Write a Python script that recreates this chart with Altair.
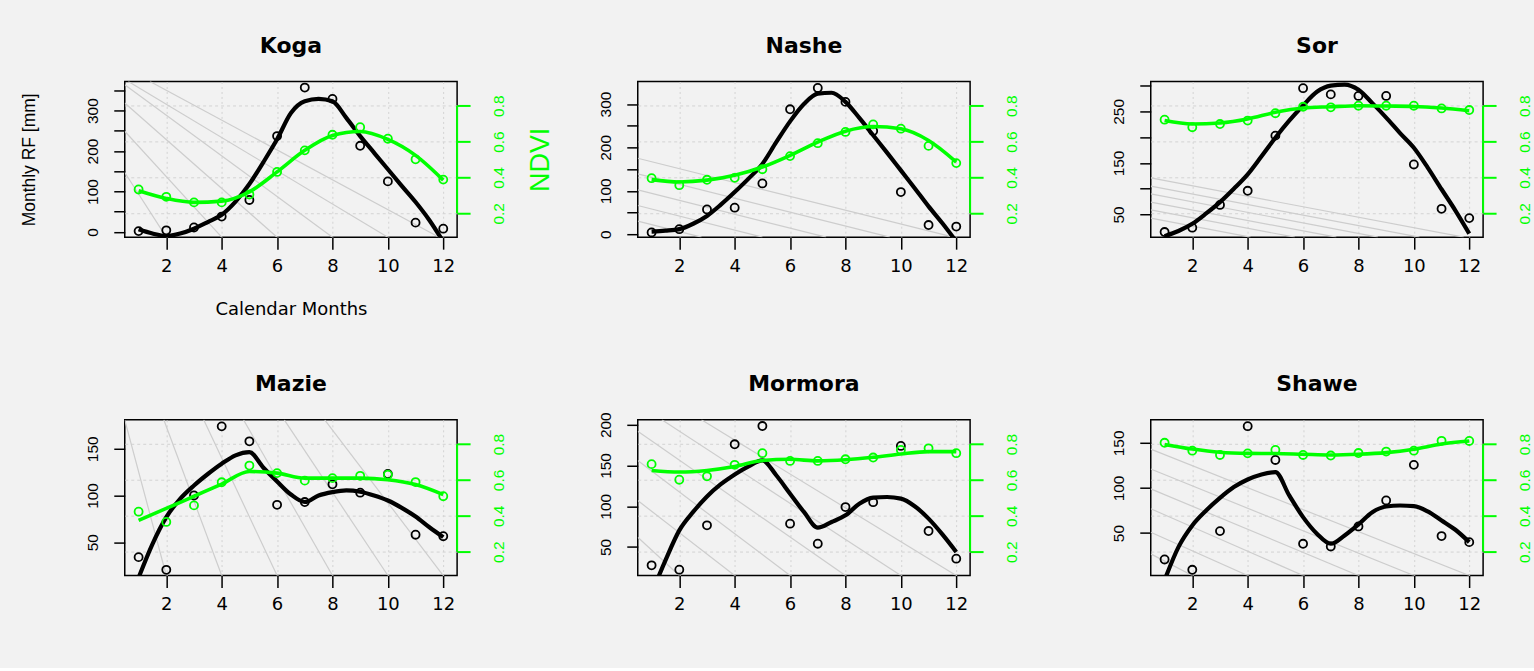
import altair as alt
import pandas as pd

# ---------------- data ----------------
MONTHS = [1, 2, 3, 4, 5, 6, 7, 8, 9, 10, 11, 12]
HALF_MONTHS = [1, 1.5, 2, 2.5, 3, 3.5, 4, 4.5, 5, 5.5, 6, 6.5, 7, 7.5, 8, 8.5,
               9, 9.5, 10, 10.5, 11, 11.5, 12]
X_TICKS = [2, 4, 6, 8, 10, 12]
NDVI_TICKS = [0.2, 0.4, 0.6, 0.8]
NDVI_DOMAIN = [0.067, 0.935]
X_DOMAIN = [0.5, 12.5]

STATIONS = ["Koga", "Nashe", "Sor", "Mazie", "Mormora", "Shawe"]

# monthly rainfall observations (mm)
koga_rf = [2, 4, 11, 38, 79, 237, 357, 329, 213, 125, 23, 8]
nashe_rf = [4, 11.5, 57, 61, 117, 288, 337, 305, 238, 97, 21, 17.5]
sor_rf = [16, 24.4, 68.6, 96, 203, 295, 283, 280, 280, 147, 61, 43]
mazie_rf = [34, 20.4, 100, 174, 158, 90, 93, 112, 103, 123, 58, 56.4]
mormora_rf = [27.5, 22.2, 76.6, 176, 198.4, 78.6, 54, 99, 105, 174, 69.6, 35.7]
shawe_rf = [20.8, 9.4, 52.2, 168.5, 131, 38.2, 35.2, 57.4, 86.2, 125.6, 46.7, 40]

# smoothed rainfall curves, read at half-month steps
koga_rf_fit = [6.5, -4, -10, -4, 8, 24.5, 42.5, 75, 118.5, 172, 229, 294, 323, 329,
               323, 282, 237, 196, 155, 114, 74, 29, -24]
nashe_rf_fit = [6, 8, 11.5, 24, 42, 68, 97, 128, 162, 212, 260, 300, 324, 326,
                305, 268, 228, 188, 147, 106, 64, 25, -17]
sor_rf_fit = [8, 18, 32, 52, 74, 100, 128, 163, 199, 232, 261.5, 288, 300, 302,
              292, 266, 238, 208, 179.5, 141, 99, 57.7, 13]
mazie_rf_fit = [12, 48, 76.8, 96.4, 110.7, 123, 134, 143, 146.4, 130, 115, 101,
                93, 100, 103.6, 105.4, 104, 100, 94.6, 86.8, 77.5, 66, 55.4]
mormora_rf_fit = [-7, 33.6, 70.4, 93, 112, 127, 139, 149, 156.3, 138, 115.4, 93,
                  73.7, 80.7, 88.8, 103, 110.5, 111.3, 109.3, 100, 84.8, 65.5, 43.9]
shawe_rf_fit = [-2, 34.5, 58.5, 75, 89, 101, 109.4, 115, 117.5, 91.7, 67.7, 49.3,
                38.2, 47.4, 59.6, 73.2, 79.5, 80.6, 79.9, 74, 64, 53.7, 40]

# NDVI observations
koga_ndvi = [0.333, 0.292, 0.261, 0.261, 0.305, 0.431, 0.551, 0.638, 0.680, 0.616, 0.501, 0.388]
nashe_ndvi = [0.396, 0.357, 0.387, 0.398, 0.446, 0.519, 0.591, 0.654, 0.696, 0.672, 0.576, 0.480]
sor_ndvi = [0.722, 0.680, 0.698, 0.717, 0.758, 0.794, 0.791, 0.800, 0.800, 0.800, 0.785, 0.776]
mazie_ndvi = [0.423, 0.366, 0.458, 0.587, 0.680, 0.638, 0.596, 0.610, 0.623, 0.629, 0.588, 0.509]
mormora_ndvi = [0.688, 0.601, 0.620, 0.684, 0.749, 0.706, 0.706, 0.715, 0.725, 0.767, 0.776, 0.749]
shawe_ndvi = [0.807, 0.763, 0.739, 0.748, 0.767, 0.739, 0.736, 0.750, 0.758, 0.763, 0.818, 0.817]

# smoothed NDVI curves (monthly)
koga_ndvi_fit = [0.326, 0.283, 0.261, 0.268, 0.320, 0.431, 0.551, 0.634, 0.656, 0.612, 0.523, 0.385]
nashe_ndvi_fit = [0.388, 0.375, 0.385, 0.412, 0.458, 0.523, 0.597, 0.658, 0.684, 0.671, 0.606, 0.486]
sor_ndvi_fit = [0.717, 0.698, 0.704, 0.726, 0.763, 0.787, 0.794, 0.800, 0.798, 0.796, 0.787, 0.772]
mazie_ndvi_fit = [0.375, 0.441, 0.509, 0.577, 0.647, 0.638, 0.610, 0.610, 0.610, 0.601, 0.574, 0.518]
mormora_ndvi_fit = [0.653, 0.644, 0.653, 0.675, 0.708, 0.715, 0.706, 0.712, 0.726, 0.745, 0.758, 0.758]
shawe_ndvi_fit = [0.798, 0.772, 0.754, 0.748, 0.747, 0.743, 0.739, 0.743, 0.752, 0.771, 0.800, 0.817]

# rainfall axis ranges, ticks and labelled ticks
koga_dom, koga_ticks, koga_lab = [-13, 372], [0, 50, 100, 150, 200, 250, 300, 350], [0, 100, 200, 300]
nashe_dom, nashe_ticks, nashe_lab = [-7, 352], [0, 50, 100, 150, 200, 250, 300], [0, 100, 200, 300]
sor_dom, sor_ticks, sor_lab = [6, 308], [50, 100, 150, 200, 250, 300], [50, 150, 250]
mazie_dom, mazie_ticks, mazie_lab = [14.3, 181], [50, 100, 150], [50, 100, 150]
mormora_dom, mormora_ticks, mormora_lab = [15, 206], [50, 100, 150, 200], [50, 100, 150, 200]
shawe_dom, shawe_ticks, shawe_lab = [3, 175.5], [50, 100, 150], [50, 100, 150]

# light grey diagonal background lines (start month, start RF, end month, end RF)
koga_lx1 = [0.5, 0.5, 0.5, 0.5, 0.63, 1.41]
koga_ly1 = [147, 249, 319, 364, 372, 372]
koga_lx2 = [2, 4, 6, 8, 10, 11.85]
koga_ly2 = [-13, -13, -13, -13, -13, -13]
nashe_lx1 = [0.5, 0.5, 0.5, 0.5, 0.5]
nashe_ly1 = [175, 139, 102, 66, 30]
nashe_lx2 = [11.9, 9.6, 7.3, 5.0, 2.8]
nashe_ly2 = [-7, -7, -7, -7, -7]
sor_lx1 = [0.5, 0.5, 0.5, 0.5, 0.5, 0.5]
sor_ly1 = [121, 105, 90, 74, 59, 43]
sor_lx2 = [11.8, 10.2, 8.7, 7.2, 5.7, 4.1]
sor_ly2 = [6, 6, 6, 6, 6, 6]
mazie_lx1 = [0.5, 1.91, 3.35, 4.79, 6.26, 7.72]
mazie_ly1 = [181, 181, 181, 181, 181, 181]
mazie_lx2 = [2, 4, 6, 8, 10, 12]
mazie_ly2 = [14.3, 14.3, 14.3, 14.3, 14.3, 14.3]
mormora_lx1 = [0.5, 0.5, 0.5, 0.5, 1.37, 2.8]
mormora_ly1 = [62, 107, 156, 192, 206, 206]
mormora_lx2 = [2, 4, 6, 8, 10, 12]
mormora_ly2 = [15, 15, 15, 15, 15, 15]
shawe_lx1 = [0.5, 0.5, 0.5, 0.5, 0.5, 0.5]
shawe_ly1 = [143, 121, 99, 77, 51, 27]
shawe_lx2 = [12, 10, 8, 6, 4, 2]
shawe_ly2 = [3, 3, 3, 3, 3, 3]

# ---------------- styling ----------------
GREEN = "#00ff00"
BG = "#f2f2f2"
W, H = 333, 156


def make_panel(name, rf, rf_fit, ndvi, ndvi_fit, dom, ticks, lab, lx1, ly1, lx2, ly2, first):
    pts = pd.DataFrame({"month": MONTHS, "rf": rf, "ndvi": ndvi})
    rfc = pd.DataFrame({"month": HALF_MONTHS, "rf": rf_fit})
    ndc = pd.DataFrame({"month": MONTHS, "ndvi": ndvi_fit})
    ln = pd.DataFrame({"month": lx1, "rf": ly1, "month2": lx2, "rf2": ly2})
    axl = pd.DataFrame({"ndvi": [NDVI_TICKS[0]], "ndvi2": [NDVI_TICKS[-1]]})
    ttl = pd.DataFrame({"station": [name]})

    xa = dict(values=X_TICKS, grid=True, gridColor="#d3d3d3", gridDash=[2, 3], gridWidth=1,
              domain=False, tickColor="black", tickSize=12, tickWidth=1.5,
              labelColor="black", labelFont="DejaVu Sans", labelFontSize=18,
              labelPadding=8, labelFlush=False, labelOverlap=False, title=None)
    if first:
        xa.update(title="Calendar Months", titleFont="DejaVu Sans", titleFontSize=18,
                  titleFontWeight="normal", titleColor="black", titleX=W / 2, titleY=72,
                  titleAlign="center", titleBaseline="middle")
    xenc = alt.X("month:Q", scale=alt.Scale(domain=X_DOMAIN, nice=False, zero=False),
                 axis=alt.Axis(**xa))

    lab_expr = "indexof(" + str(lab) + ", datum.value) >= 0 ? datum.label : ''"
    ya = dict(orient="left", values=ticks, labelExpr=lab_expr, grid=False, domain=False,
              tickColor="black", tickSize=11, tickWidth=1.5, labelAngle=270,
              labelAlign="center", labelBaseline="bottom", labelPadding=13,
              labelFont="Liberation Sans", labelFontSize=15.5, labelColor="black",
              labelOverlap=False, labelFlush=False, title=None)
    if first:
        ya.update(title="Monthly RF [mm]", titleFont="Liberation Sans", titleFontSize=17.5,
                  titleFontWeight="normal", titleColor="black", titleAngle=270,
                  titleX=-86, titleY=H / 2, titleAlign="center", titleBaseline="bottom")
    yrf = alt.Y("rf:Q", scale=alt.Scale(domain=dom, nice=False, zero=False), axis=alt.Axis(**ya))

    na = dict(orient="right", values=NDVI_TICKS, format=".1f", grid=True, gridColor="#d3d3d3",
              gridDash=[3, 3], gridWidth=1, domain=False, tickColor=GREEN, tickSize=13,
              tickWidth=2, labelColor=GREEN, labelAngle=270, labelAlign="center",
              labelBaseline="top", labelPadding=21, labelFont="Liberation Sans",
              labelFontSize=15.5, labelOverlap=False, labelFlush=False, title=None)
    if first:
        na.update(title="NDVI", titleColor=GREEN, titleFont="Liberation Sans", titleFontSize=27,
                  titleFontWeight="normal", titleAngle=270, titleX=84, titleY=H / 2,
                  titleAlign="center", titleBaseline="middle")
    yndvi = alt.Y("ndvi:Q", scale=alt.Scale(domain=NDVI_DOMAIN, nice=False, zero=False),
                  axis=alt.Axis(**na))

    rf_group = alt.layer(
        alt.Chart(ln).mark_rule(color="#cdcdcd", strokeWidth=1.2, clip=True).encode(
            x=xenc, x2="month2:Q", y=yrf, y2="rf2:Q"),
        alt.Chart(rfc).mark_line(color="black", strokeWidth=4.2, interpolate="monotone",
                                 clip=True).encode(x=xenc, y=yrf),
        alt.Chart(pts).mark_point(shape="circle", filled=False, color="black", size=65,
                                  strokeWidth=1.8, opacity=1).encode(x=xenc, y=yrf),
    )
    ndvi_group = alt.layer(
        alt.Chart(axl).mark_rule(color=GREEN, strokeWidth=2).encode(
            x=alt.value(W), y=yndvi, y2="ndvi2:Q"),
        alt.Chart(ndc).mark_line(color=GREEN, strokeWidth=3.6, interpolate="monotone",
                                 clip=True).encode(x=xenc, y=yndvi),
        alt.Chart(pts).mark_point(shape="circle", filled=False, color=GREEN, size=65,
                                  strokeWidth=1.8, opacity=1).encode(x=xenc, y=yndvi),
    )
    title_layer = alt.Chart(ttl).mark_text(
        font="DejaVu Sans", fontSize=22, fontWeight="bold", color="black",
        align="center", baseline="alphabetic"
    ).encode(x=alt.value(W / 2), y=alt.value(-29), text="station:N")

    return alt.layer(rf_group, ndvi_group, title_layer).resolve_scale(y="independent").properties(
        width=W, height=H)


koga = make_panel("Koga", koga_rf, koga_rf_fit, koga_ndvi, koga_ndvi_fit,
                  koga_dom, koga_ticks, koga_lab, koga_lx1, koga_ly1, koga_lx2, koga_ly2, True)
nashe = make_panel("Nashe", nashe_rf, nashe_rf_fit, nashe_ndvi, nashe_ndvi_fit,
                   nashe_dom, nashe_ticks, nashe_lab, nashe_lx1, nashe_ly1, nashe_lx2, nashe_ly2, False)
sor = make_panel("Sor", sor_rf, sor_rf_fit, sor_ndvi, sor_ndvi_fit,
                 sor_dom, sor_ticks, sor_lab, sor_lx1, sor_ly1, sor_lx2, sor_ly2, False)
mazie = make_panel("Mazie", mazie_rf, mazie_rf_fit, mazie_ndvi, mazie_ndvi_fit,
                   mazie_dom, mazie_ticks, mazie_lab, mazie_lx1, mazie_ly1, mazie_lx2, mazie_ly2, False)
mormora = make_panel("Mormora", mormora_rf, mormora_rf_fit, mormora_ndvi, mormora_ndvi_fit,
                     mormora_dom, mormora_ticks, mormora_lab, mormora_lx1, mormora_ly1,
                     mormora_lx2, mormora_ly2, False)
shawe = make_panel("Shawe", shawe_rf, shawe_rf_fit, shawe_ndvi, shawe_ndvi_fit,
                   shawe_dom, shawe_ticks, shawe_lab, shawe_lx1, shawe_ly1, shawe_lx2, shawe_ly2, False)

row1 = alt.hconcat(koga, nashe, sor, spacing=181, bounds="flush")
row2 = alt.hconcat(mazie, mormora, shawe, spacing=181, bounds="flush")

chart = alt.vconcat(row1, row2, spacing=339, bounds="flush").configure_view(
    stroke="black", strokeWidth=1.5
).properties(
    background=BG,
    padding={"left": 20, "top": 33, "right": 0, "bottom": 53},
)

chart.save("out.html", embed_options={"renderer": "svg", "actions": False})
